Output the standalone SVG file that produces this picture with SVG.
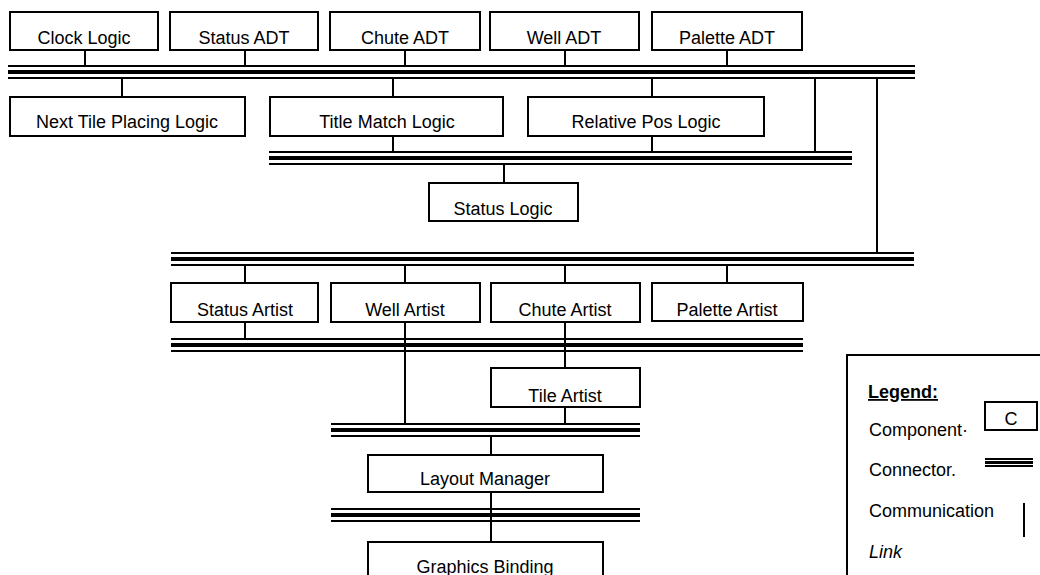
<svg xmlns="http://www.w3.org/2000/svg" width="1040" height="575" viewBox="0 0 1040 575">
<style>
.box{fill:#fff;stroke:#000;stroke-width:2}
.t{font-family:"Liberation Sans",Arial,sans-serif;font-size:18px;fill:#000;text-anchor:middle}
.lt{font-family:"Liberation Sans",Arial,sans-serif;font-size:18px;fill:#000}
.bus rect{fill:#000}
.link{stroke:#000;stroke-width:2;fill:none}
</style>
<rect width="1040" height="575" fill="#fff"/>
<g id="connectors">
  <g class="bus" id="bus1"><rect x="8" y="65" width="907" height="2"/><rect x="8" y="70" width="907" height="4"/><rect x="8" y="77" width="907" height="2"/></g>
  <g class="bus" id="bus2"><rect x="269" y="151" width="583" height="2"/><rect x="269" y="156" width="583" height="4"/><rect x="269" y="163" width="583" height="2"/></g>
  <g class="bus" id="bus3"><rect x="171" y="252" width="743" height="2"/><rect x="171" y="257" width="743" height="4"/><rect x="171" y="264" width="743" height="2"/></g>
  <g class="bus" id="bus4"><rect x="171" y="338" width="632" height="2"/><rect x="171" y="343" width="632" height="4"/><rect x="171" y="350" width="632" height="2"/></g>
  <g class="bus" id="bus5"><rect x="331" y="423" width="309" height="2"/><rect x="331" y="428" width="309" height="4"/><rect x="331" y="435" width="309" height="2"/></g>
  <g class="bus" id="bus6"><rect x="331" y="508" width="309" height="2"/><rect x="331" y="513" width="309" height="4"/><rect x="331" y="520" width="309" height="2"/></g>
  <path class="link" d="M85 50V65 M245 50V65 M405 50V65 M565 50V65 M727 50V65"/>
  <path class="link" d="M122 79V97 M393 79V97 M652 79V97"/>
  <path class="link" d="M815 79V151 M877 79V252"/>
  <path class="link" d="M393 136V151 M652 136V151 M504 165V183"/>
  <path class="link" d="M245 266V283 M405 266V283 M565 266V283 M727 266V283"/>
  <path class="link" d="M245 322V338 M405 322V423 M565 322V368 M565 407V423"/>
  <path class="link" d="M491 437V455 M491 492V542"/>
</g>
<g id="clock-logic"><rect class="box" x="10" y="12" width="148" height="38"/><text class="t" x="84" y="44">Clock Logic</text></g>
<g id="status-adt"><rect class="box" x="170" y="12" width="148" height="38"/><text class="t" x="244" y="44">Status ADT</text></g>
<g id="chute-adt"><rect class="box" x="330" y="12" width="150" height="38"/><text class="t" x="405" y="44">Chute ADT</text></g>
<g id="well-adt"><rect class="box" x="490" y="12" width="149" height="38"/><text class="t" x="564" y="44">Well ADT</text></g>
<g id="palette-adt"><rect class="box" x="652" y="12" width="150" height="38"/><text class="t" x="727" y="44">Palette ADT</text></g>
<g id="next-tile"><rect class="box" x="10" y="97" width="235" height="39"/><text class="t" x="127" y="128">Next Tile Placing Logic</text></g>
<g id="title-match"><rect class="box" x="270" y="97" width="233" height="39"/><text class="t" x="387" y="128">Title Match Logic</text></g>
<g id="relative-pos"><rect class="box" x="528" y="97" width="236" height="39"/><text class="t" x="646" y="128">Relative Pos Logic</text></g>
<g id="status-logic"><rect class="box" x="429" y="183" width="149" height="38"/><text class="t" x="503" y="215">Status Logic</text></g>
<g id="status-artist"><rect class="box" x="171" y="283" width="147" height="39"/><text class="t" x="245" y="316">Status Artist</text></g>
<g id="well-artist"><rect class="box" x="331" y="283" width="149" height="39"/><text class="t" x="405" y="316">Well Artist</text></g>
<g id="chute-artist"><rect class="box" x="491" y="283" width="149" height="39"/><text class="t" x="565" y="316">Chute Artist</text></g>
<g id="palette-artist"><rect class="box" x="652" y="283" width="151" height="38"/><text class="t" x="727" y="316">Palette Artist</text></g>
<g id="tile-artist"><rect class="box" x="491" y="368" width="149" height="39"/><text class="t" x="565" y="402">Tile Artist</text></g>
<g id="layout-manager"><rect class="box" x="368" y="455" width="235" height="37"/><text class="t" x="485" y="485">Layout Manager</text></g>
<g id="graphics-binding"><rect class="box" x="368" y="542" width="235" height="50"/><text class="t" x="485" y="573">Graphics Binding</text></g>
<g id="legend">
  <rect class="box" x="847" y="355" width="220" height="240"/>
  <text class="lt" x="868" y="398" font-weight="bold" text-decoration="underline">Legend:</text>
  <rect class="box" x="985" y="402" width="52" height="28"/>
  <text class="t" x="1011" y="425">C</text>
  <text class="lt" x="869" y="436">Component·</text>
  <text class="lt" x="869" y="476">Connector.</text>
  <rect x="985" y="458" width="48" height="2"/><rect x="985" y="461" width="48" height="3"/><rect x="985" y="465" width="48" height="2"/>
  <text class="lt" x="869" y="517">Communication</text>
  <path class="link" d="M1024 503V537"/>
  <text class="lt" x="869" y="558" font-style="italic">Link</text>
</g>
</svg>
